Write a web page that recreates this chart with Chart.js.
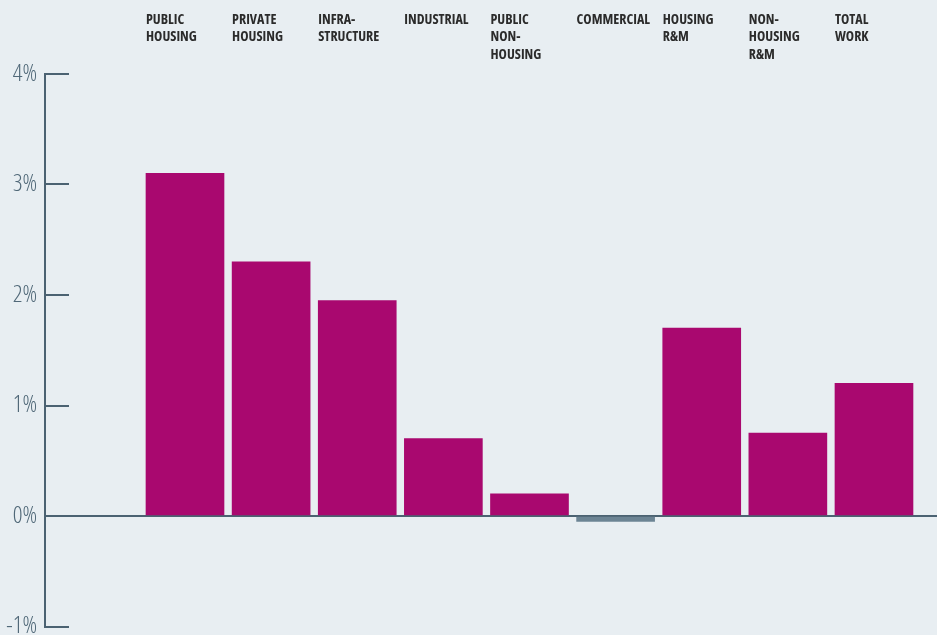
<!DOCTYPE html>
<html>
<head>
<meta charset="utf-8">
<script src="https://cdn.jsdelivr.net/npm/chart.js@4.4.1/dist/chart.umd.min.js"></script>
<style>
  html, body { margin: 0; padding: 0; background: #e8eef2; }
  #wrap { width: 937px; height: 635px; }
</style>
</head>
<body>
<div id="wrap"><canvas id="growthChart"></canvas></div>
<script>
// categories, split into the lines they are printed on
const categories = [
  ['PUBLIC', 'HOUSING'],
  ['PRIVATE', 'HOUSING'],
  ['INFRA-', 'STRUCTURE'],
  ['INDUSTRIAL'],
  ['PUBLIC', 'NON-', 'HOUSING'],
  ['COMMERCIAL'],
  ['HOUSING', 'R&M'],
  ['NON-', 'HOUSING', 'R&M'],
  ['TOTAL', 'WORK']
];

// growth, %
const growth = [3.1, 2.3, 1.95, 0.7, 0.2, -0.05, 1.7, 0.75, 1.2];

// y axis tick values
const yTicks = [-1, 0, 1, 2, 3, 4];

const axisColor = '#4b6272';
const barColor = '#a9086f';
const negColor = '#6c8494';
const fontFamily = '"Open Sans", "Roboto", sans-serif';

const ctx = document.getElementById('growthChart');
new Chart(ctx, {
  type: 'bar',
  data: {
    datasets: [{
      label: 'Growth',
      data: growth.map((v, i) => ({ x: i, y: v })),
      backgroundColor: (c) => (c.raw && c.raw.y < 0 ? negColor : barColor),
      borderWidth: 0,
      barThickness: 78
    }]
  },
  options: {
    responsive: true,
    maintainAspectRatio: false,
    animation: false,
    layout: {
      padding: { left: 0, right: 0, top: 0, bottom: 8.5 }
    },
    plugins: {
      legend: { display: false },
      tooltip: { enabled: false }
    },
    scales: {
      x: {
        type: 'linear',
        position: 'top',
        offset: false,
        min: -1.6255,
        max: 8.7317,
        grid: { display: false, drawTicks: false },
        border: { display: false },
        afterBuildTicks: (scale) => {
          scale.ticks = categories.map((_, i) => ({ value: i }));
        },
        afterFit: (scale) => {
          scale.height = 74;
          scale.paddingLeft = 0;
          scale.paddingRight = 0;
        },
        ticks: {
          autoSkip: false,
          maxRotation: 0,
          minRotation: 0,
          align: 'start',
          crossAlign: 'far',
          labelOffset: -39,
          padding: 10,
          color: '#2b2b2b',
          font: { family: fontFamily, size: 14, weight: 'bold condensed', lineHeight: 1.27 },
          callback: (value) => categories[value]
        }
      },
      y: {
        min: -1,
        max: 4,
        z: 1,
        afterBuildTicks: (scale) => {
          scale.ticks = yTicks.map((v) => ({ value: v }));
        },
        afterFit: (scale) => {
          scale.width = 45;
          scale.paddingTop = 0;
          scale.paddingBottom = 0;
        },
        border: { display: true, color: axisColor, width: 2 },
        grid: {
          drawOnChartArea: true,
          lineWidth: 2,
          color: (c) => (c.tick && c.tick.value === 0 ? axisColor : 'rgba(0,0,0,0)'),
          tickColor: axisColor,
          tickLength: -24
        },
        ticks: {
          padding: 32,
          color: '#506878',
          font: { family: fontFamily, size: 24, weight: '300 condensed' },
          callback: (value) => value + '%'
        }
      }
    }
  }
});
</script>
</body>
</html>
